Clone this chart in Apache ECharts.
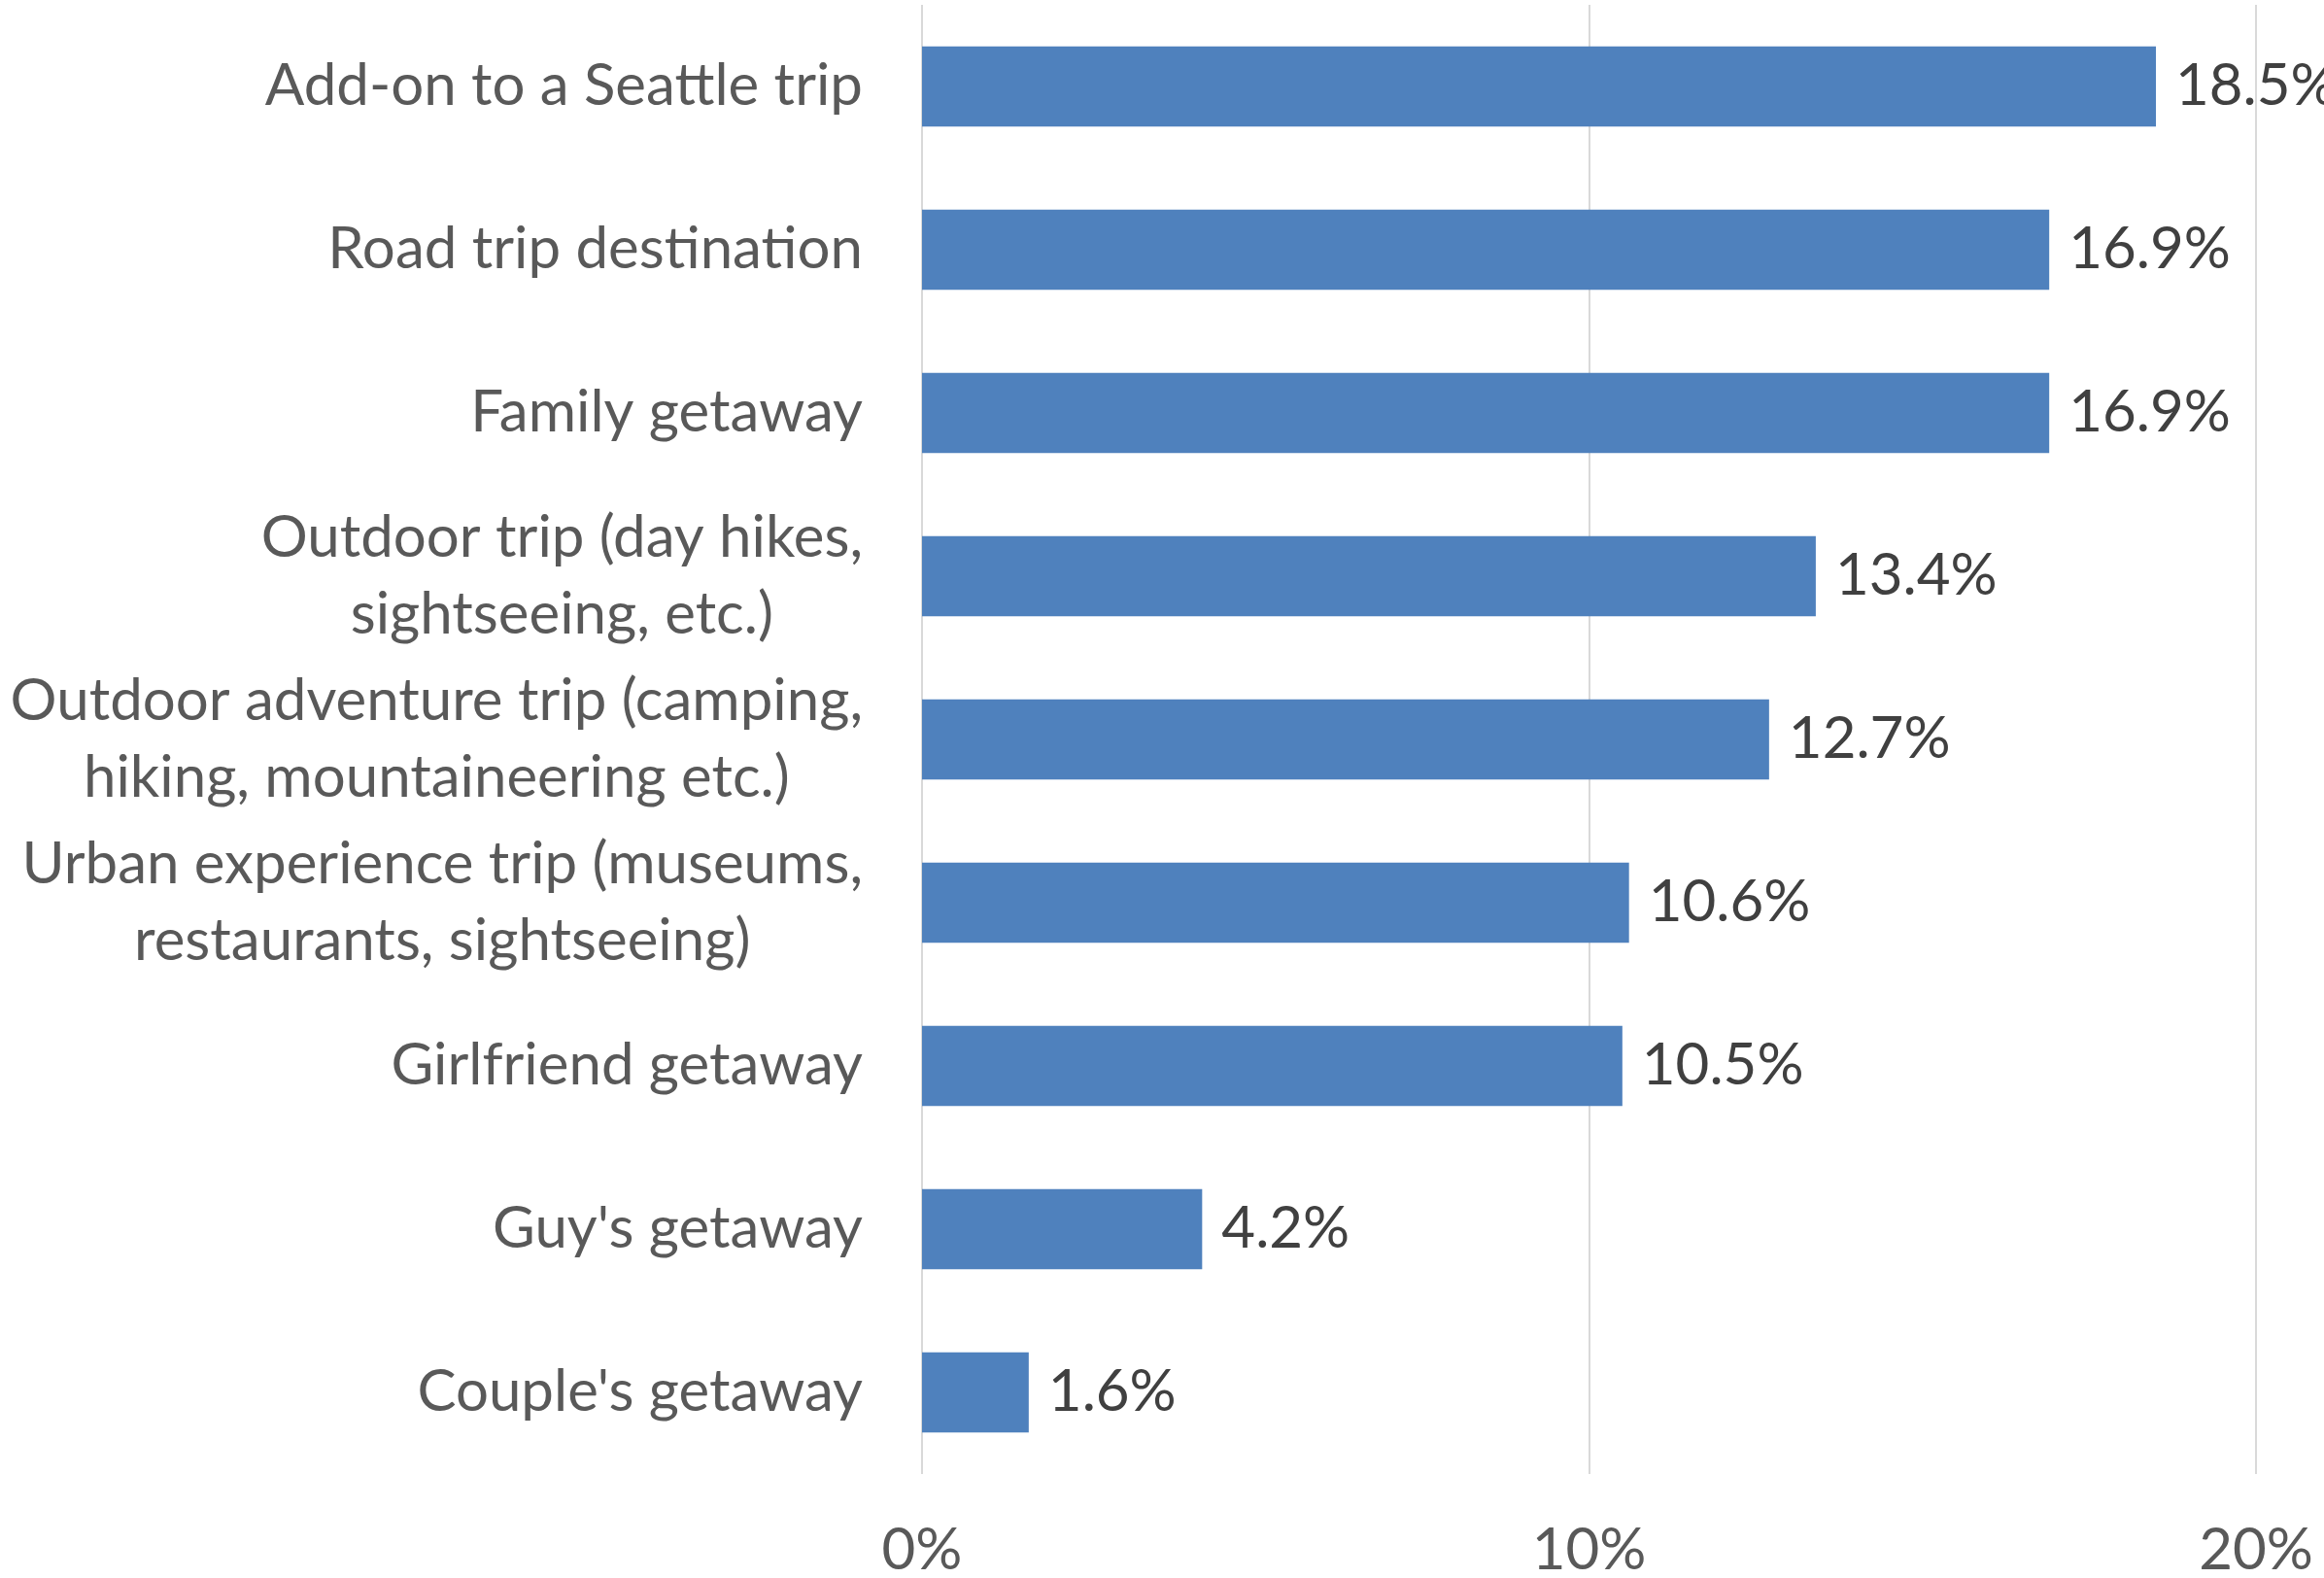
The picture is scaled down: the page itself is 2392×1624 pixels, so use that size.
<!DOCTYPE html>
<html>
<head>
<meta charset="utf-8">
<script src="https://cdn.jsdelivr.net/npm/echarts@6/dist/echarts.min.js"></script>
<style>
  html, body { margin: 0; padding: 0; background: #ffffff; }
  #chart { width: 2392px; height: 1624px; }
</style>
</head>
<body>
<div id="chart"></div>
<script>
// Trip types, listed top to bottom
const categories = [
  'Add-on to a Seattle trip',
  'Road trip destination',
  'Family getaway',
  'Outdoor trip (day hikes,\nsightseeing, etc.)',
  'Outdoor adventure trip (camping,\nhiking, mountaineering etc.)',
  'Urban experience trip (museums,\nrestaurants, sightseeing)',
  'Girlfriend getaway',
  "Guy's getaway",
  "Couple's getaway"
];

// Share of respondents, percent
const shares = [18.5, 16.9, 16.9, 13.4, 12.7, 10.6, 10.5, 4.2, 1.6];

// Value axis ticks, percent
const axisMin = 0;
const axisMax = 20;
const axisStep = 10;

const FONT = 'Lato';
const chart = echarts.init(document.getElementById('chart'));

chart.setOption({
  animation: false,
  backgroundColor: '#ffffff',
  grid: {
    left: 949, right: 70, top: 5, bottom: 107,
    containLabel: false,
    outerBoundsMode: 'none'
  },
  xAxis: {
    type: 'value',
    min: axisMin,
    max: axisMax,
    interval: axisStep,
    axisLine: { show: false },
    axisTick: { show: false },
    splitLine: { show: true, lineStyle: { color: '#D9D9D9', width: 2 } },
    axisLabel: {
      formatter: '{value}%',
      color: '#595959',
      fontFamily: FONT,
      fontSize: 60,
      margin: 49
    }
  },
  yAxis: {
    type: 'category',
    data: categories,
    inverse: true,
    axisLine: { show: false },
    axisTick: { show: false },
    axisLabel: {
      margin: 61,
      align: 'right',
      formatter: function (v) {
        return v.split('\n').map(function (s) { return '{c|' + s + '}'; }).join('\n');
      },
      rich: {
        c: {
          align: 'center',
          color: '#595959',
          fontFamily: FONT,
          fontSize: 60,
          lineHeight: 79
        }
      }
    }
  },
  series: [{
    type: 'bar',
    data: shares,
    barCategoryGap: '51%',
    itemStyle: { color: '#4F81BD' },
    label: {
      show: true,
      position: 'right',
      distance: 20,
      formatter: function (p) { return p.value.toFixed(1) + '%'; },
      color: '#404040',
      fontFamily: FONT,
      fontSize: 60
    }
  }]
});
</script>
</body>
</html>
